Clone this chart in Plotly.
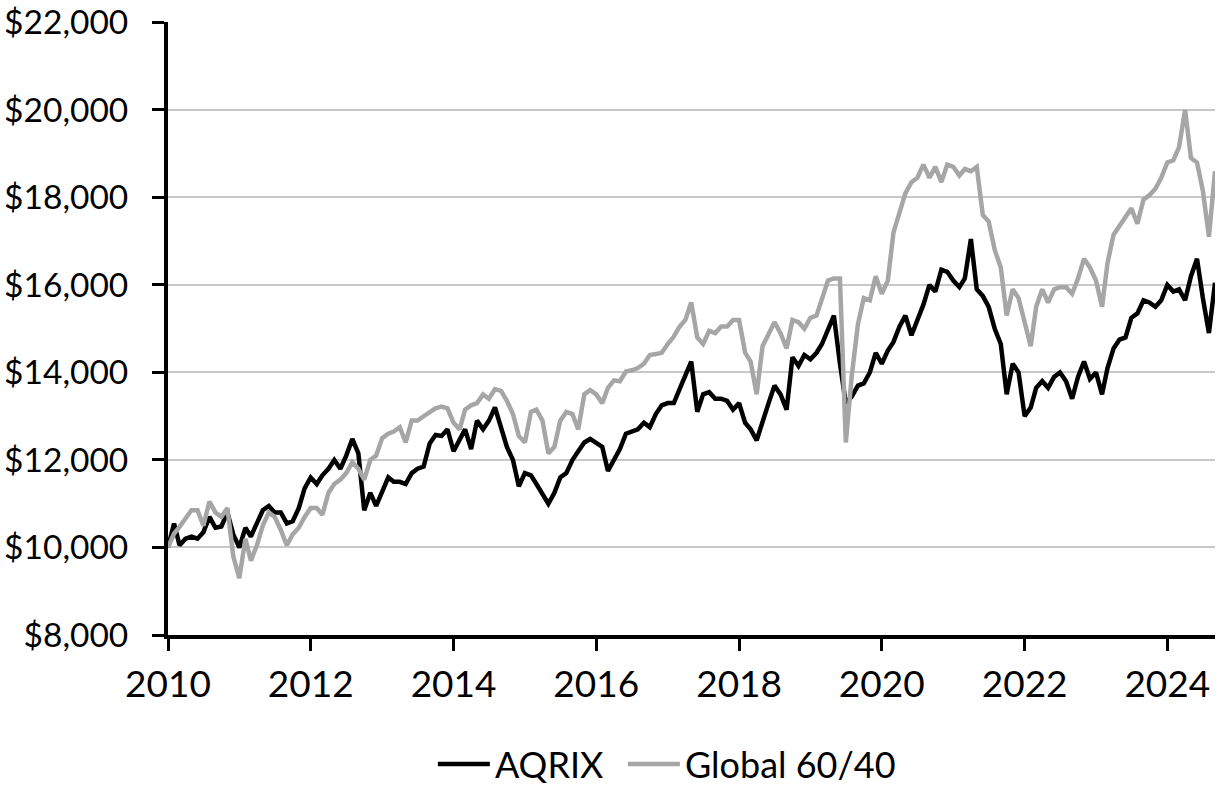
import plotly.graph_objects as go
import pandas as pd

# month starts, Jan 2010 .. Sep 2024
months = pd.date_range("2010-01-01", "2024-09-01", freq="MS")

# growth of $10,000 (one value per month)
aqrix = [
    10000, 10550, 10050, 10200, 10250, 10200, 10350, 10700, 10450, 10480, 10800, 10300,  # 2010
    10000, 10450, 10250, 10550, 10850, 10950, 10800, 10800, 10550, 10600, 10900, 11350,  # 2011
    11600, 11450, 11650, 11800, 12000, 11800, 12100, 12480, 12150, 10850, 11250, 10950,  # 2012
    11300, 11600, 11500, 11500, 11450, 11700, 11800, 11850, 12380, 12570, 12550, 12700,  # 2013
    12200, 12450, 12700, 12250, 12900, 12700, 12900, 13200, 12780, 12300, 12000, 11400,  # 2014
    11700, 11650, 11450, 11200, 11000, 11250, 11600, 11700, 12000, 12200, 12400, 12480,  # 2015
    12400, 12300, 11750, 12000, 12250, 12600, 12650, 12700, 12850, 12750, 13050, 13250,  # 2016
    13300, 13300, 13600, 13900, 14250, 13100, 13500, 13550, 13400, 13400, 13350, 13150,  # 2017
    13300, 12850, 12700, 12450, 12900, 13300, 13700, 13500, 13150, 14350, 14150, 14400,  # 2018
    14300, 14450, 14650, 14950, 15300, 14200, 13300, 13450, 13700, 13750, 14000, 14450,  # 2019
    14200, 14500, 14700, 15050, 15300, 14850, 15200, 15550, 16000, 15850, 16350, 16300,  # 2020
    16100, 15950, 16150, 17050, 15900, 15750, 15500, 15000, 14650, 13500, 14200, 14000,  # 2021
    13000, 13200, 13650, 13800, 13650, 13900, 14000, 13800, 13400, 13900, 14250, 13850,  # 2022
    14000, 13500, 14100, 14550, 14750, 14800, 15250, 15350, 15650, 15600, 15500, 15650,  # 2023
    16000, 15850, 15900, 15650, 16200, 16600, 15700, 14900, 16050,                       # 2024
]

global_6040 = [
    10000, 10320, 10470, 10650, 10850, 10850, 10500, 11050, 10800, 10700, 10900, 9800,   # 2010
    9300, 10200, 9700, 10050, 10500, 10800, 10700, 10400, 10050, 10300, 10450, 10700,    # 2011
    10900, 10900, 10750, 11250, 11450, 11550, 11700, 11950, 11800, 11550, 12000, 12100,  # 2012
    12500, 12600, 12650, 12750, 12400, 12900, 12900, 13000, 13100, 13180, 13220, 13180,  # 2013
    12850, 12700, 13150, 13250, 13300, 13500, 13400, 13620, 13580, 13350, 13050, 12550,  # 2014
    12400, 13100, 13150, 12900, 12150, 12300, 12900, 13100, 13050, 12700, 13500, 13600,  # 2015
    13500, 13300, 13650, 13820, 13800, 14020, 14050, 14100, 14200, 14400, 14420, 14450,  # 2016
    14650, 14820, 15040, 15200, 15600, 14800, 14650, 14950, 14900, 15050, 15050, 15200,  # 2017
    15200, 14450, 14250, 13500, 14600, 14900, 15150, 14900, 14550, 15200, 15150, 15000,  # 2018
    15250, 15300, 15650, 16100, 16150, 16150, 12400, 13950, 15100, 15700, 15650, 16200,  # 2019
    15800, 16100, 17200, 17700, 18100, 18350, 18450, 18750, 18450, 18700, 18350, 18750,  # 2020
    18700, 18500, 18650, 18600, 18700, 17600, 17450, 16800, 16400, 15300, 15900, 15700,  # 2021
    15100, 14600, 15500, 15900, 15600, 15900, 15950, 15950, 15800, 16150, 16600, 16400,  # 2022
    16100, 15500, 16500, 17150, 17350, 17550, 17750, 17400, 17950, 18050, 18200, 18450,  # 2023
    18800, 18850, 19150, 20000, 18900, 18800, 18150, 17100, 18600,                       # 2024
]

y_ticks = list(range(8000, 22001, 2000))
y_labels = ["${:,}".format(v) for v in y_ticks]

FONT = "Lato, 'Open Sans', sans-serif"

fig = go.Figure()
fig.add_trace(go.Scatter(x=months, y=aqrix, name="AQRIX", mode="lines",
                         line=dict(color="#000000", width=4.5), legend="legend"))
fig.add_trace(go.Scatter(x=months, y=global_6040, name="Global 60/40", mode="lines",
                         line=dict(color="#a6a6a6", width=4.5), legend="legend2"))

# one legend per series so the gap between the two entries can be set
leg = dict(orientation="h", xanchor="left", y=-0.2104, yanchor="middle",
           itemwidth=52, font=dict(size=36), bgcolor="rgba(0,0,0,0)")
fig.update_layout(
    width=1220, height=785,
    margin=dict(l=168, r=5, t=22, b=150, autoexpand=False),
    paper_bgcolor="white", plot_bgcolor="white",
    font=dict(family=FONT, size=36, color="black"),
    showlegend=True,
    legend=dict(leg, x=0.253),
    legend2=dict(leg, x=0.4345),
)
fig.update_xaxes(
    type="date", range=["2010-01-01", "2024-09-01"],
    tick0="2010-01-01", dtick="M24", tickformat="%Y",
    showgrid=False, showline=True, linecolor="black", linewidth=4,
    ticks="outside", ticklen=12, tickwidth=3, tickcolor="black",
    tickfont=dict(size=37), ticklabelstandoff=2, automargin=False,
)
fig.update_yaxes(
    range=[8000, 22010], tickvals=y_ticks, ticktext=y_labels,
    showgrid=True, gridcolor="#c8c8c8", gridwidth=1.5, zeroline=False,
    showline=True, linecolor="black", linewidth=4,
    ticks="outside", ticklen=12, tickwidth=3, tickcolor="black",
    tickfont=dict(size=33.5), ticklabelstandoff=17, automargin=False,
    ticklabeloverflow="allow",
)

# drop the page's default 8px body margin so the figure sits at the corner
fig.write_html("out.html", config={"displayModeBar": False},
               post_script="document.body.style.margin='0';"
                           "document.documentElement.style.overflow='hidden';")
